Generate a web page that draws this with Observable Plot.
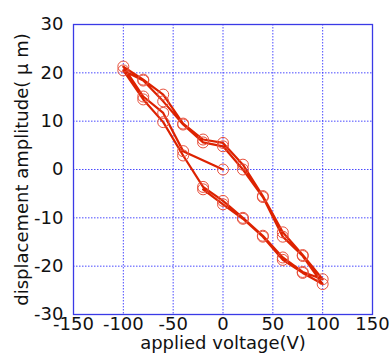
<!DOCTYPE html>
<html><head><meta charset="utf-8">
<script src="https://cdn.jsdelivr.net/npm/d3@7"></script>
<script src="https://cdn.jsdelivr.net/npm/@observablehq/plot@0.6"></script>
<style>body{margin:0;background:#fff}</style>
</head><body><div id="c"></div>
<script>
const voltage = [0,-40,-60,-80,-100,-80,-60,-40,-20,0,20,40,60,80,100,80,60,40,20,0,-20,-40,-60,-80,-100,-80,-60,-40,-20,0,20,40,60,80,100,80,60,40,20,0,-20];
const displacement = [0,3.8,11.7,15.1,21.3,18.6,15.5,9.5,6.2,5.5,1.0,-5.5,-13.0,-17.7,-22.7,-21.2,-18.2,-13.7,-10.0,-6.5,-3.6,2.9,9.8,14.5,20.5,18.4,14.1,9.3,5.6,4.8,0.0,-5.7,-13.9,-17.9,-23.7,-21.4,-18.7,-13.9,-10.2,-7.2,-4.1];
const xTicks = [-150,-100,-50,0,50,100,150];
const yTicks = [-30,-20,-10,0,10,20,30];
const data = voltage.map((v,i)=>({v, d: displacement[i]}));
const font = "'DejaVu Sans', sans-serif";
const fmt = d => String(d);
const chart = Plot.plot({
  width: 392, height: 354,
  marginLeft: 73, marginRight: 20, marginTop: 24, marginBottom: 40,
  style: {fontFamily: font, fontSize: "18px", color: "#111", background: "#fff"},
  x: {domain: [-150,150]},
  y: {domain: [-30,30]},
  marks: [
    Plot.gridX(xTicks, {stroke: "#2a2aff", strokeOpacity: 0.85, strokeDasharray: "1.5,1.5", strokeWidth: 1}),
    Plot.gridY(yTicks, {stroke: "#2a2aff", strokeOpacity: 0.85, strokeDasharray: "1.5,1.5", strokeWidth: 1}),
    Plot.frame({stroke: "#3a3ae6", strokeWidth: 1.3}),
    Plot.line(data, {x: "v", y: "d", stroke: "#dd2200", strokeWidth: 2.2}),
    Plot.dot(data, {x: "v", y: "d", r: 5.5, stroke: "#e8503c", strokeWidth: 1, fill: "none"}),
    Plot.axisX(xTicks, {tickSize: 0, tickPadding: 3, fontSize: 18, tickFormat: fmt, label: "applied voltage(V)", labelAnchor: "center", labelOffset: 34, labelArrow: false}),
    Plot.axisY(yTicks, {tickSize: 0, tickPadding: 10, fontSize: 18, tickFormat: fmt, label: "displacement amplitude( μ m)", labelAnchor: "center", labelOffset: 58, labelArrow: false})
  ]
});
document.getElementById("c").appendChild(chart);
</script></body></html>
